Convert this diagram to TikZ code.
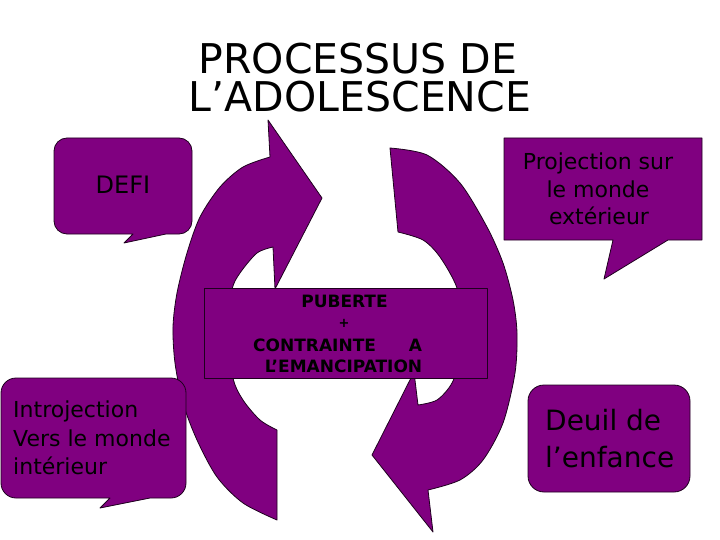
\documentclass[tikz,border=0pt]{standalone}
\usepackage{fontspec}
\setmainfont{DejaVu Sans}
\definecolor{purp}{RGB}{128,0,128}
\definecolor{edgec}{RGB}{30,0,30}
\tikzset{
  shapebox/.style={fill=purp, draw=edgec, line width=0.8pt, line join=round},
  txt/.style={inner sep=0pt, text=black},
}
\begin{document}
\begin{tikzpicture}[x=1pt,y=-1pt]
\useasboundingbox (0,0) rectangle (720,540);

% left circular arrow (points up-right)
\path[shapebox] (268,120) -- (322,198) -- (275,289) -- (273,247)
  -- plot[smooth] coordinates {(273,247) (257,253) (240,273) (232,290) (228,333) (233,378) (243,400) (260,420) (277,430)}
  -- (277,520)
  -- plot[smooth] coordinates {(277,520) (243,503) (217,477) (197,440) (183,403) (175,363) (173,327) (177,293) (187,253) (200,217) (220,187) (243,167) (270,157)}
  -- cycle;

% right circular arrow (points down-left)
\path[shapebox] (390,148)
  -- plot[smooth] coordinates {(390,148) (427,155) (460,183) (487,227) (503,263) (513,300) (517,333) (515,373) (503,423) (483,460) (460,480) (428,490)}
  -- (433,532) -- (372,455) -- (414,372) -- (418,405)
  -- plot[smooth] coordinates {(418,405) (437,400) (452,383) (461,355) (463,325) (457,288) (440,257) (423,240) (398,232)}
  -- cycle;

% DEFI callout
\path[shapebox] (67,138) -- (179,138) arc[start angle=270,end angle=360,radius=13]
  -- (192,221) arc[start angle=0,end angle=90,radius=13]
  -- (166,234) -- (124,243) -- (133,234)
  -- (67,234) arc[start angle=90,end angle=180,radius=13]
  -- (54,151) arc[start angle=180,end angle=270,radius=13] -- cycle;

% Projection callout
\path[shapebox] (504,138) -- (702,138) -- (702,240) -- (668,240) -- (604,279)
  -- (613,240) -- (504,240) -- cycle;

% Introjection callout
\path[shapebox] (16,378) -- (171,378) arc[start angle=270,end angle=360,radius=15]
  -- (186,483) arc[start angle=0,end angle=90,radius=15]
  -- (150,498) -- (100,508) -- (110,498)
  -- (16,498) arc[start angle=90,end angle=180,radius=15]
  -- (1,393) arc[start angle=180,end angle=270,radius=15] -- cycle;

% Deuil box
\path[shapebox] (544,385) -- (674,385) arc[start angle=270,end angle=360,radius=16]
  -- (690,476) arc[start angle=0,end angle=90,radius=16]
  -- (544,492) arc[start angle=90,end angle=180,radius=16]
  -- (528,401) arc[start angle=180,end angle=270,radius=16] -- cycle;

% central box
\path[shapebox] (204,288) rectangle (487,378);

% texts
\node[txt, anchor=base, font=\fontsize{24}{24}\selectfont] (defi) at (123,194) {DEFI};

\begin{scope}[every node/.style={txt, anchor=base, font=\fontsize{22}{22}\selectfont}]
\node (proj1) at (598,170) {Projection sur};
\node (proj2) at (598,197) {le monde};
\node (proj3) at (599,225) {extérieur};
\end{scope}

\begin{scope}[every node/.style={txt, anchor=base west, font=\fontsize{22}{22}\selectfont}]
\node (intro1) at (13,417) {Introjection};
\node (intro2) at (13,446) {Vers le monde};
\node (intro3) at (13,474) {intérieur};
\end{scope}

\begin{scope}[every node/.style={txt, anchor=base west, font=\fontsize{28}{28}\selectfont}]
\node (deuil1) at (545,430) {Deuil de};
\node (deuil2) at (545,467) {l’enfance};
\end{scope}

\begin{scope}[every node/.style={txt, font=\bfseries\fontsize{17}{17}\selectfont}]
\node[anchor=base] (pub1) at (344.5,307) {PUBERTE};
\node[anchor=base, font=\bfseries\fontsize{13}{13}\selectfont] (pub2) at (344,327) {+};
\node[anchor=base west] (pub3) at (253,351) {CONTRAINTE\hspace{33pt}A};
\node[anchor=base] (pub4) at (343.5,372) {L’EMANCIPATION};
\end{scope}

% title
\begin{scope}[every node/.style={txt, anchor=base, font=\fontsize{41}{41}\selectfont}]
\node (title1) at (358,74) {PROCESSUS DE};
\node (title2) at (360,112) {L’ADOLESCENCE};
\end{scope}
\end{tikzpicture}
\end{document}
